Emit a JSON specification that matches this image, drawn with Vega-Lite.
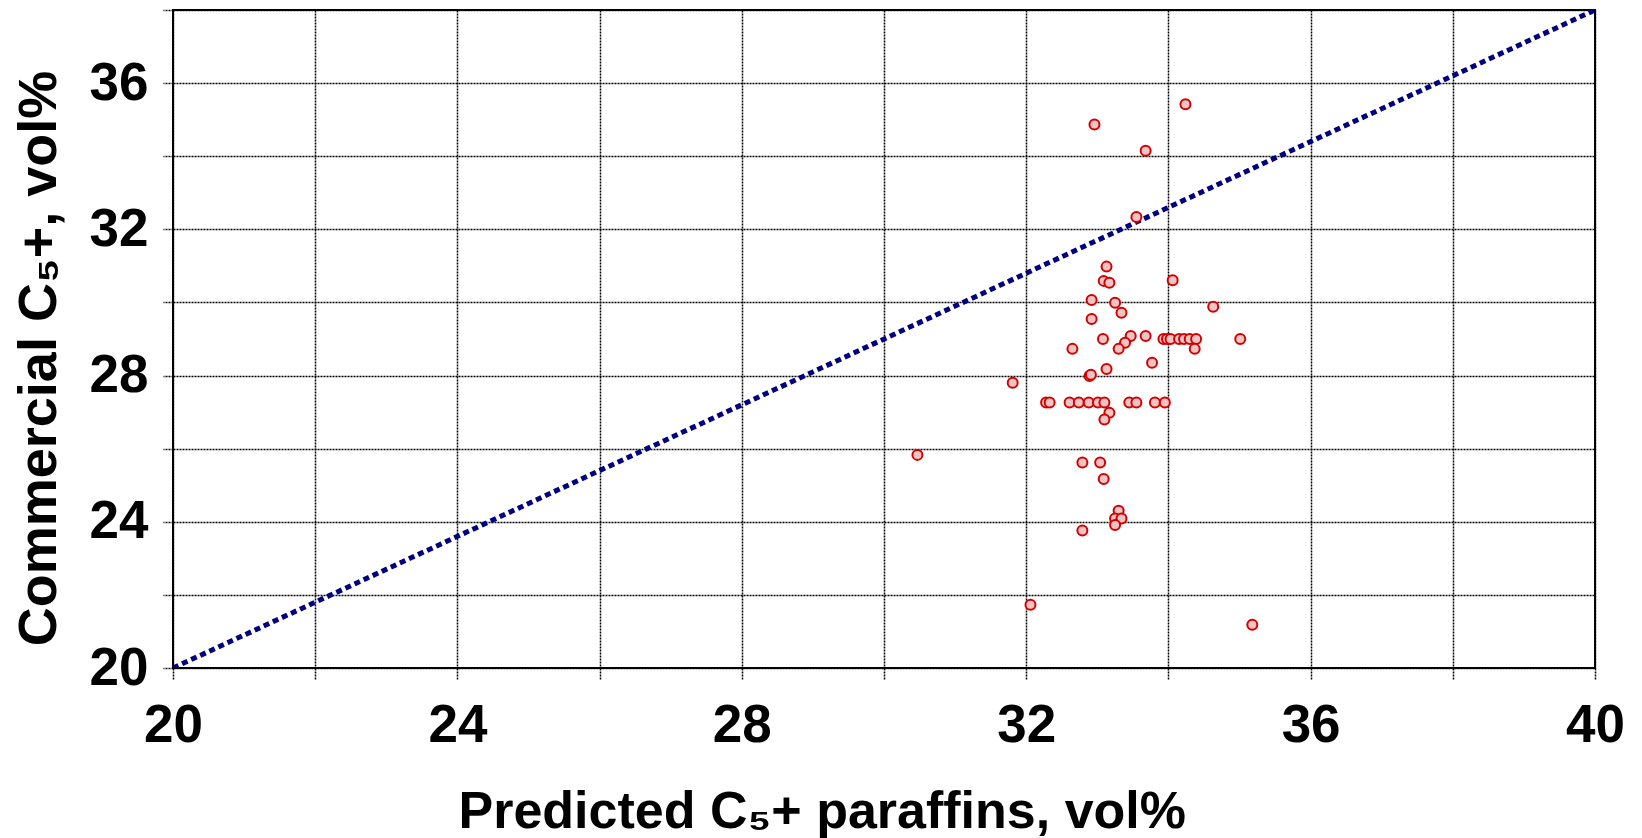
{
  "$schema": "https://vega.github.io/schema/vega-lite/v6.json",
  "width": 1422,
  "height": 658,
  "autosize": {"type": "none"},
  "padding": {"left": 173, "top": 10, "right": 47, "bottom": 170},
  "background": "white",
  "config": {
    "font": "Liberation Sans",
    "view": {"stroke": "#000000", "strokeWidth": 2},
    "axis": {
      "grid": true,
      "gridColor": "#000000",
      "gridDash": [2, 1],
      "gridWidth": 1.5,
      "gridOpacity": 1,
      "domain": false,
      "ticks": true,
      "tickColor": "#000000",
      "tickDash": [2, 1],
      "tickWidth": 1.5,
      "labelFont": "Liberation Sans",
      "labelFontWeight": "bold",
      "labelFontSize": 53,
      "labelColor": "#000000",
      "titleFont": "Liberation Sans",
      "titleFontWeight": "bold",
      "titleColor": "#000000"
    }
  },
  "layer": [
    {
      "data": {"values": [{"x": 20, "y": 20}, {"x": 40, "y": 38}]},
      "mark": {"type": "line", "color": "#000080", "strokeWidth": 5, "strokeDash": [6, 4], "clip": true},
      "encoding": {
        "x": {"field": "x", "type": "quantitative"},
        "y": {"field": "y", "type": "quantitative"}
      }
    },
    {
      "data": {"values": [
        {"x": 32.96, "y": 34.87},
        {"x": 34.24, "y": 35.42},
        {"x": 33.68, "y": 34.15},
        {"x": 33.55, "y": 32.34},
        {"x": 33.13, "y": 30.98},
        {"x": 33.09, "y": 30.59},
        {"x": 33.17, "y": 30.54},
        {"x": 34.06, "y": 30.61},
        {"x": 32.92, "y": 30.07},
        {"x": 33.25, "y": 29.99},
        {"x": 33.34, "y": 29.72},
        {"x": 32.92, "y": 29.55},
        {"x": 34.63, "y": 29.88},
        {"x": 32.65, "y": 28.73},
        {"x": 33.08, "y": 29.0},
        {"x": 33.47, "y": 29.08},
        {"x": 33.39, "y": 28.9},
        {"x": 33.3, "y": 28.73},
        {"x": 33.68, "y": 29.08},
        {"x": 33.13, "y": 28.18},
        {"x": 32.89, "y": 27.99},
        {"x": 32.91, "y": 28.02},
        {"x": 33.77, "y": 28.35},
        {"x": 33.93, "y": 29.0},
        {"x": 33.98, "y": 29.0},
        {"x": 34.03, "y": 29.0},
        {"x": 34.15, "y": 29.0},
        {"x": 34.22, "y": 29.0},
        {"x": 34.3, "y": 29.0},
        {"x": 34.39, "y": 29.0},
        {"x": 34.37, "y": 28.73},
        {"x": 35.01, "y": 29.0},
        {"x": 31.81, "y": 27.8},
        {"x": 32.28, "y": 27.26},
        {"x": 32.33, "y": 27.26},
        {"x": 32.61, "y": 27.26},
        {"x": 32.74, "y": 27.26},
        {"x": 32.88, "y": 27.26},
        {"x": 33.01, "y": 27.26},
        {"x": 33.1, "y": 27.26},
        {"x": 33.45, "y": 27.26},
        {"x": 33.55, "y": 27.26},
        {"x": 33.81, "y": 27.26},
        {"x": 33.95, "y": 27.26},
        {"x": 33.17, "y": 26.98},
        {"x": 33.1, "y": 26.8},
        {"x": 30.47, "y": 25.83},
        {"x": 32.79, "y": 25.62},
        {"x": 33.04, "y": 25.62},
        {"x": 33.09, "y": 25.17},
        {"x": 33.3, "y": 24.3},
        {"x": 33.25, "y": 24.09},
        {"x": 33.34, "y": 24.09},
        {"x": 33.25, "y": 23.91},
        {"x": 32.79, "y": 23.76},
        {"x": 32.06, "y": 21.73},
        {"x": 35.18, "y": 21.18}
      ]},
      "mark": {"type": "point", "shape": "circle", "filled": true, "fill": "#efc4c4", "stroke": "#d40000", "strokeWidth": 2, "opacity": 1, "size": 100},
      "encoding": {
        "x": {
          "field": "x", "type": "quantitative",
          "scale": {"domain": [20, 40], "nice": false, "zero": false},
          "axis": {
            "values": [20, 22, 24, 26, 28, 30, 32, 34, 36, 38, 40],
            "format": "d",
            "labelExpr": "datum.value % 4 === 0 ? datum.label : ''",
            "tickSize": 12,
            "labelPadding": 19,
            "labelFlush": false,
            "title": "Predicted C₅+ paraffins, vol%",
            "titleFontSize": 52,
            "titleAnchor": "start",
            "titleAlign": "left",
            "titleBaseline": "alphabetic",
            "titleX": 285,
            "titleY": 159
          }
        },
        "y": {
          "field": "y", "type": "quantitative",
          "scale": {"domain": [20, 38], "nice": false, "zero": false},
          "axis": {
            "values": [20, 22, 24, 26, 28, 30, 32, 34, 36, 38],
            "format": "d",
            "labelExpr": "datum.value % 4 === 0 ? datum.label : ''",
            "tickSize": 10,
            "labelPadding": 15,
            "labelFlush": false,
            "title": "Commercial C₅+, vol%",
            "titleFontSize": 54,
            "titleAngle": -90,
            "titleAlign": "center",
            "titleBaseline": "alphabetic",
            "titleX": -118,
            "titleY": 348
          }
        }
      }
    }
  ]
}
